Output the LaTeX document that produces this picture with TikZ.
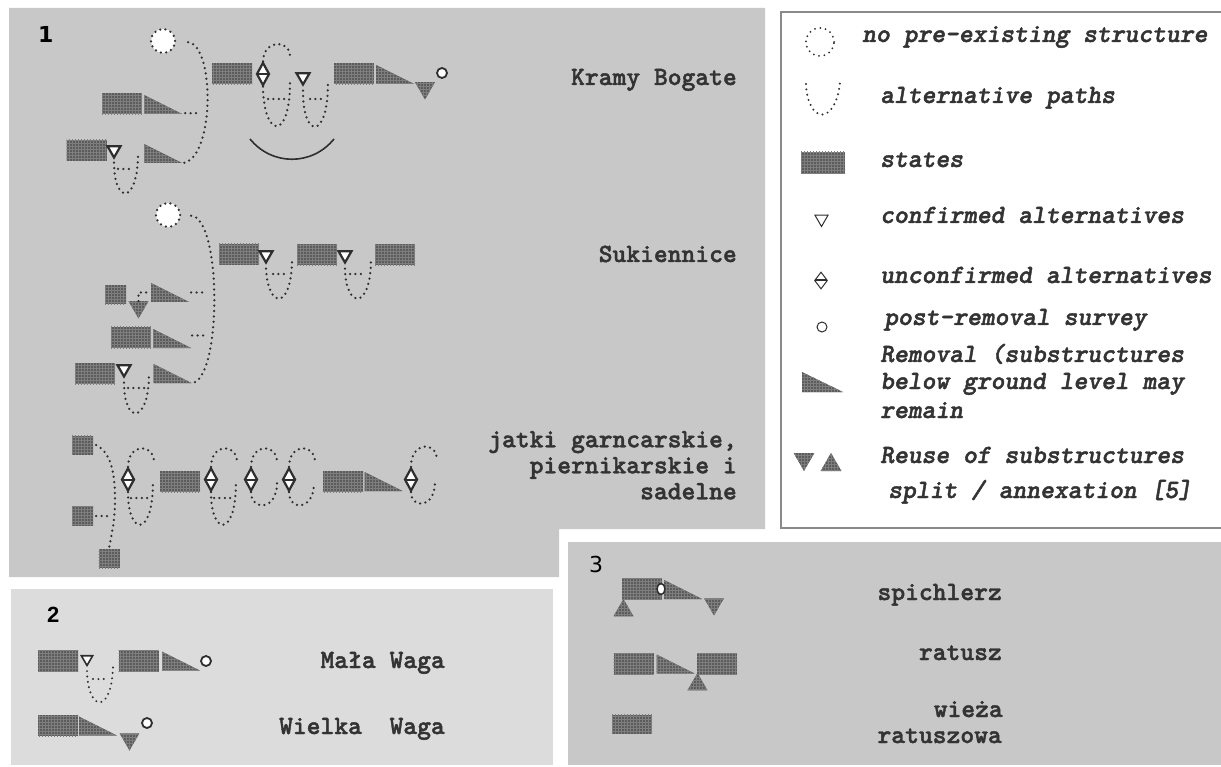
\documentclass[tikz,border=0pt]{standalone}
\usepackage{fontspec}
\usetikzlibrary{shapes.geometric, patterns}
\newfontfamily\labfont{lmmonolt10}[Extension=.otf, UprightFont=*-regular,
  BoldFont=*-bold, ItalicFont=*-oblique, BoldItalicFont=*-boldoblique,
  BoldFeatures={FakeBold=1.6}, BoldItalicFeatures={FakeBold=1.6}]
\newfontfamily\numfont{DejaVu Sans}
\newfontfamily\numfontb{Liberation Sans}
\definecolor{panel}{HTML}{C8C8C8}
\definecolor{panellt}{HTML}{DCDCDC}
\definecolor{statec}{HTML}{5C5C5C}
\definecolor{statel}{HTML}{7E7E7E}
\definecolor{dotc}{HTML}{2E2E2E}
\definecolor{txt}{HTML}{333333}
\definecolor{frame}{HTML}{8A8A8A}

\begin{document}
\begin{tikzpicture}[x=1pt, y=-1pt,
    hatch/.style={fill=statec, postaction={pattern=grid, pattern color=statel}},
    state/.style={rectangle, minimum width=40pt, minimum height=21pt, inner sep=0, hatch},
    small/.style={state, minimum width=21pt, minimum height=19pt},
    removal/.style={rectangle, minimum width=38pt, minimum height=19pt, inner sep=0,
      path picture={\fill[hatch] (path picture bounding box.north west)
        -- (path picture bounding box.south west)
        -- (path picture bounding box.south east) -- cycle;}},
    reusedown/.style={regular polygon, regular polygon sides=3, shape border rotate=180,
      minimum size=23pt, inner sep=0, hatch},
    reuseup/.style={regular polygon, regular polygon sides=3,
      minimum size=23pt, inner sep=0, hatch},
    conf/.style={regular polygon, regular polygon sides=3, shape border rotate=180,
      minimum size=15pt, inner sep=0, fill=white, draw=dotc, line width=2.2pt},
    unconf/.style={diamond, minimum width=13pt, minimum height=23pt, inner sep=0,
      fill=white, draw=dotc, line width=2.2pt,
      path picture={\draw[dotc, line width=2pt] (path picture bounding box.west)
        -- (path picture bounding box.east);}},
    survey/.style={circle, minimum size=10pt, inner sep=0, fill=white, draw=dotc, line width=1.8pt},
    dots/.style={draw=dotc, line width=2.5pt, line cap=round, dash pattern=on 0pt off 5.4pt},
    nostruct/.style={circle, minimum size=24pt, inner sep=0, fill=white, dots},
    thin/.style={line width=1pt},
    lab/.style={font={\labfont\bfseries\fontsize{26.3}{26}\selectfont}, text=txt, inner sep=0},
    legtext/.style={font={\labfont\bfseries\itshape\fontsize{26.3}{28}\selectfont}, text=txt, inner sep=0, anchor=base west},
    num/.style={inner sep=0, anchor=base west, text=black}]
  \useasboundingbox (0,0) rectangle (1221,767);
  % panels
  \fill[panel] (9,8) -- (765,8) -- (765,529) -- (559,529) -- (559,577) -- (9,577) -- cycle;
  \fill[panellt] (11,589) rectangle (553,765);
  \fill[panel] (568,542) rectangle (1221,765);
  \fill[white] (781,12) rectangle (1221,528);
  \draw[frame, line width=1.5pt] (1221,12) -- (781,12) -- (781,528) -- (1221,528);

  \node[num, font={\numfont\bfseries\fontsize{22}{24}\selectfont}] (p1) at (38,43) {1};
  \node[num, font={\numfontb\bfseries\fontsize{22}{24}\selectfont}] (p2) at (47,622) {2};
  \node[num, font={\numfont\fontsize{22}{24}\selectfont}] (p3) at (589,572) {3};

  % Kramy Bogate
  \node[nostruct] (c1) at (163,41) {};
  \node[state] (k1) at (232,74) {};
  \node[unconf] (u1) at (263,74) {};
  \node[conf] (t1) at (303,77) {};
  \node[state] (k2) at (354,74) {};
  \node[removal] (k3) at (395,74.5) {};
  \node[reusedown] (k4) at (425,88) {};
  \node[survey] (k5) at (442,73) {};
  \node[state] (k6) at (122,104) {};
  \node[removal] (k7) at (163,104.5) {};
  \node[state] (k8) at (86.5,150.5) {};
  \node[conf] (t2) at (114,150) {};
  \node[removal] (k9) at (163,153.5) {};
  \draw[dots, shorten <=12pt] (c1.east) .. controls (215,45) and (215,160) .. (k9.south east);
  \draw[dots] ([xshift=3pt,yshift=1pt]k7.south east) -- ++(15,0);
  \draw[dots] (u1.north) .. controls (263,40) and (290,38) .. (290,57);
  \draw[dots] (u1.south) .. controls (264,140) and (290,140) .. (290,83);
  \draw[dots] (268,99) -- (288,99);
  \draw[dots] ([yshift=-4pt]t1.south) .. controls (303,140) and (328,140) .. (328,83);
  \draw[dots] (310,99) -- (325,99);
  \draw[dots] ([yshift=-3pt]t2.south) .. controls (114,205) and (138,205) .. (138,153);
  \draw[dots] (118,169) -- (133,169);
  \draw[dotc, line width=1.6pt] (250,139) .. controls (272,166) and (312,166) .. (334,139);

  % Sukiennice
  \node[nostruct] (c2) at (168,215) {};
  \node[state] (a1) at (239,254.5) {};
  \node[conf] (t3) at (266,255) {};
  \node[state] (a2) at (317,255) {};
  \node[conf] (t4) at (345,255) {};
  \node[state] (a3) at (395,255) {};
  \node[small] (a4) at (115.5,295) {};
  \node[reusedown] (a5) at (138.5,307) {};
  \node[removal] (a6) at (170,292.5) {};
  \node[state] (a7) at (131,337.5) {};
  \node[removal] (a8) at (172,338.5) {};
  \node[state] (a9) at (95,373.5) {};
  \node[conf] (t5) at (124,369) {};
  \node[removal] (a10) at (172.5,373.5) {};
  \draw[dots, shorten <=10pt] (c2.east) .. controls (222,218) and (222,380) .. (a10.south east);
  \draw[dots] ([xshift=2pt]a6.east) -- ++(13,0);
  \draw[dots] ([xshift=1pt,yshift=3pt]a8.east) -- ++(11,0);
  \draw[dots] (a5.north) |- ([xshift=-1pt]a6.west);
  \draw[dots] ([yshift=-4pt]t3.south) .. controls (268,310) and (292,310) .. (292,259);
  \draw[dots] (273,274) -- (288,274);
  \draw[dots] ([yshift=-4pt]t4.south) .. controls (346,310) and (371,310) .. (371,259);
  \draw[dots] (350,274) -- (365,274);
  \draw[dots] ([yshift=-4pt]t5.south) .. controls (124,425) and (149,425) .. (149,373);
  \draw[dots] (128,388) -- (148,388);

  % jatki
  \node[small] (j1) at (82.5,445) {};
  \node[small] (j2) at (82.5,516) {};
  \node[small] (j3) at (109,558.5) {};
  \node[unconf] (d1) at (128,479.5) {};
  \node[state] (j4) at (180,481.5) {};
  \node[unconf] (d2) at (211,479.5) {};
  \node[unconf] (d3) at (251,479.5) {};
  \node[unconf] (d4) at (289,479.5) {};
  \node[state] (j5) at (343,481.5) {};
  \node[removal] (j6) at (383.5,481.5) {};
  \node[unconf] (d5) at (411,479.5) {};
  \draw[dots] ([xshift=3pt]j1.east) .. controls (110,452) and (115,470) .. (115,500)
    .. controls (115,525) and (110,540) .. (j3.north);
  \draw[dots] ([xshift=3pt]j2.east) -- ++(12,0);
  \draw[dots] (d1.north) .. controls (128,443) and (154,443) .. (154,462);
  \draw[dots] (d1.south) .. controls (128,537) and (153,537) .. (153,483);
  \draw[dots] (131,498) -- (150,498);
  \draw[dots] (d2.north) .. controls (211,443) and (237,443) .. (237,462);
  \draw[dots] (d2.south) .. controls (211,537) and (236,537) .. (236,483);
  \draw[dots] (214,498) -- (233,498);
  \draw[dots] (d3.north) .. controls (251,443) and (277,443) .. (277,462);
  \draw[dots] (d3.south) .. controls (251,511) and (277,511) .. (277,483);
  \draw[dots] (d4.north) .. controls (289,443) and (315,443) .. (315,462);
  \draw[dots] (d4.south) .. controls (289,511) and (314,511) .. (314,483);
  \draw[dots] (d5.north) .. controls (411,441) and (437,441) .. (437,460);
  \draw[dots] (d5.south) .. controls (411,509) and (435,509) .. (435,482);

  \node[lab, anchor=base east] (n1) at (737,85) {Kramy Bogate};
  \node[lab, anchor=base east] (n2) at (737,262) {Sukiennice};
  \node[lab, anchor=north east, align=right] (n3) at (737,431)
    {jatki garncarskie,\\piernikarskie i\\sadelne};

  % panel 2
  \node[state] (m1) at (58,661) {};
  \node[conf, line width=1.6pt, minimum size=13pt] (t6) at (87,659) {};
  \node[state] (m2) at (138.5,661) {};
  \node[removal] (m3) at (181,661) {};
  \node[survey] (m4) at (206,661) {};
  \draw[dots, line width=2.2pt] ([yshift=-4pt]t6.south) .. controls (88,714) and (113,714) .. (113,663);
  \draw[dots, line width=2.2pt] (93,679) -- (108,679);
  \node[state] (w1) at (58,725.5) {};
  \node[removal] (w2) at (98,726) {};
  \node[reusedown] (w3) at (129.5,739) {};
  \node[survey] (w4) at (147,723) {};
  \node[lab, anchor=base east] (n6) at (445,668) {Mała Waga};
  \node[lab, anchor=base east] (n7) at (445,734) {Wielka~~Waga};

  % panel 3
  \node[state] (s1) at (642,589) {};
  \node[removal] (s2) at (683,589.5) {};
  \node[ellipse, minimum width=8pt, minimum height=11pt, inner sep=0, fill=white,
    draw=dotc, line width=1.5pt] (s3) at (661,589) {};
  \node[reusedown] (s4) at (714,604) {};
  \node[reuseup] (s5) at (623.5,610.5) {};
  \node[state] (r1) at (633.5,663.5) {};
  \node[removal] (r2) at (675.5,664) {};
  \node[state] (r3) at (717,663.5) {};
  \node[reuseup] (r4) at (697.5,684.5) {};
  \node[state, minimum height=19pt] (r5) at (632,724) {};
  \node[lab, anchor=base east] (n8) at (1002,600) {spichlerz};
  \node[lab, anchor=base east] (n9) at (1002,660) {ratusz};
  \node[lab, anchor=base east] (n10) at (1003,717) {wieża};
  \node[lab, anchor=base east] (n11) at (1002,743) {ratuszowa};

  % legend
  \node[nostruct, minimum size=28pt, line width=2pt] (l1) at (820,42) {};
  \coordinate (l2a) at (806,84);
  \coordinate (l2b) at (840,82);
  \draw[dots, line width=2.2pt] (l2a) .. controls (808,125) and (836,125) .. (l2b);
  \node[state, minimum width=44pt, minimum height=22pt] (l3) at (823,163) {};
  \node[conf, thin] (l4) at (821.5,219) {};
  \node[unconf, thin, minimum height=17pt] (l5) at (821,280.5) {};
  \node[survey, thin] (l6) at (822,327) {};
  \node[removal, minimum width=41pt, minimum height=20pt] (l7) at (822.5,382) {};
  \node[reusedown, minimum size=24pt] (l8) at (804,459) {};
  \node[reuseup, minimum size=24pt] (l9) at (831,465) {};
  \node[legtext] (e1) at (862,42) {no pre-existing structure};
  \node[legtext] (e2) at (880,103) {alternative paths};
  \node[legtext] (e3) at (880,167) {states};
  \node[legtext] (e4) at (880,223) {confirmed alternatives};
  \node[legtext] (e5) at (880,283) {unconfirmed alternatives};
  \node[legtext] (e6) at (884,325) {post-removal survey};
  \node[legtext] (e7) at (880,362) {Removal (substructures};
  \node[legtext] (e8) at (880,389) {below ground level may};
  \node[legtext] (e9) at (880,418) {remain};
  \node[legtext] (e10) at (880,463) {Reuse of substructures};
  \node[legtext] (e11) at (888,498) {split / annexation [5]};
\end{tikzpicture}
\end{document}
